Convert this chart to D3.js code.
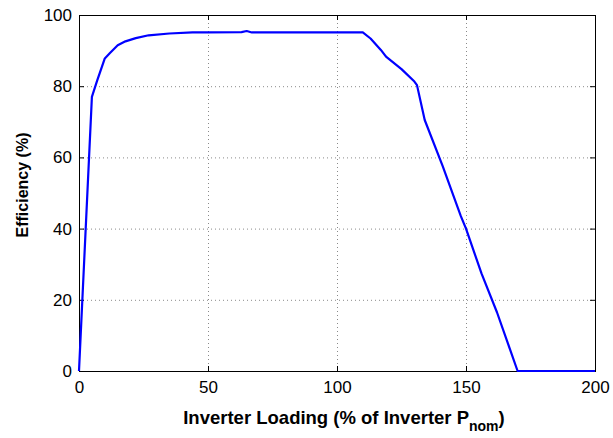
<!DOCTYPE html>
<html>
<head>
<meta charset="utf-8">
<script src="https://cdn.jsdelivr.net/npm/d3@7"></script>
<style>
  html, body { margin: 0; padding: 0; background: #fff; }
  svg text { font-family: "Liberation Sans", Arial, Helvetica, sans-serif; fill: #000; }
  svg text.title { font-weight: bold; }
</style>
</head>
<body>
<svg id="chart" width="613" height="438"></svg>
<script>
// Inverter efficiency versus loading
const loading = [0, 5, 7, 10, 12, 15, 18, 22, 27, 35, 44, 50, 63, 65, 67, 80, 100, 110,
                 113, 117, 119, 125, 130, 131, 134, 141, 148, 150, 156, 162, 170, 180, 200];
const efficiency = [0, 77, 81.5, 87.8, 89.3, 91.5, 92.6, 93.5, 94.3, 94.8, 95.1, 95.1, 95.2, 95.5, 95.1, 95.1, 95.1, 95.1,
                    93.4, 90.2, 88.3, 84.8, 81.3, 80.3, 70.5, 57.5, 43.5, 40, 27.4, 16.5, 0, 0, 0];
const xTicks = [0, 50, 100, 150, 200];
const yTicks = [0, 20, 40, 60, 80, 100];

const margin = { left: 79, right: 18, top: 15, bottom: 67 };
const W = 613, H = 438;
const iw = W - margin.left - margin.right;
const ih = H - margin.top - margin.bottom;

const svg = d3.select("#chart");
const g = svg.append("g").attr("transform", `translate(${margin.left},${margin.top})`);

const x = d3.scaleLinear().domain([0, 200]).range([0, iw]);
const y = d3.scaleLinear().domain([0, 100]).range([ih, 0]);

// dotted grid
const grid = g.append("g").attr("stroke", "#8a8a8a").attr("stroke-width", 1).attr("stroke-dasharray", "1,3");
xTicks.forEach(t => grid.append("line").attr("x1", x(t) + 0.5).attr("x2", x(t) + 0.5).attr("y1", 0).attr("y2", ih));
yTicks.forEach(t => grid.append("line").attr("x1", 0).attr("x2", iw).attr("y1", y(t) + 0.5).attr("y2", y(t) + 0.5));

// axes with inward ticks
const axStyle = sel => {
  sel.selectAll("text").style("font-size", "17px").attr("fill", "#000");
  sel.selectAll("line").attr("stroke", "#000");
  sel.select(".domain").remove();
};
g.append("g").attr("transform", `translate(0,${ih})`)
  .call(d3.axisBottom(x).tickValues(xTicks).tickSizeInner(-5).tickSizeOuter(0).tickPadding(10))
  .call(axStyle);
g.append("g")
  .call(d3.axisLeft(y).tickValues(yTicks).tickSizeInner(-5).tickSizeOuter(0).tickPadding(7))
  .call(axStyle);
g.append("g")
  .call(d3.axisTop(x).tickValues(xTicks).tickSizeInner(-5).tickSizeOuter(0).tickFormat(""))
  .call(axStyle);
g.append("g").attr("transform", `translate(${iw},0)`)
  .call(d3.axisRight(y).tickValues(yTicks).tickSizeInner(-5).tickSizeOuter(0).tickFormat(""))
  .call(axStyle);

// frame
g.append("rect").attr("x", 0.5).attr("y", 0.5).attr("width", iw).attr("height", ih)
  .attr("fill", "none").attr("stroke", "#000").attr("stroke-width", 1);

// efficiency curve
const line = d3.line().x((d, i) => x(loading[i])).y((d, i) => y(efficiency[i]));
g.append("path").datum(efficiency)
  .attr("d", line).attr("fill", "none").attr("stroke", "#0000ff").attr("stroke-width", 2.2)
  .attr("stroke-linejoin", "round");

// axis titles
const xl = svg.append("text").attr("class", "title").attr("x", 344).attr("y", 424)
  .attr("text-anchor", "middle").style("font-size", "18.5px");
xl.append("tspan").text("Inverter Loading (% of Inverter P");
xl.append("tspan").attr("dy", 7).style("font-size", "14px").text("nom");
xl.append("tspan").attr("dy", -7).text(")");

svg.append("text").attr("class", "title").attr("transform", `translate(28,${185}) rotate(-90)`)
  .attr("text-anchor", "middle").style("font-size", "16px")
  .text("Efficiency (%)");
</script>
</body>
</html>
